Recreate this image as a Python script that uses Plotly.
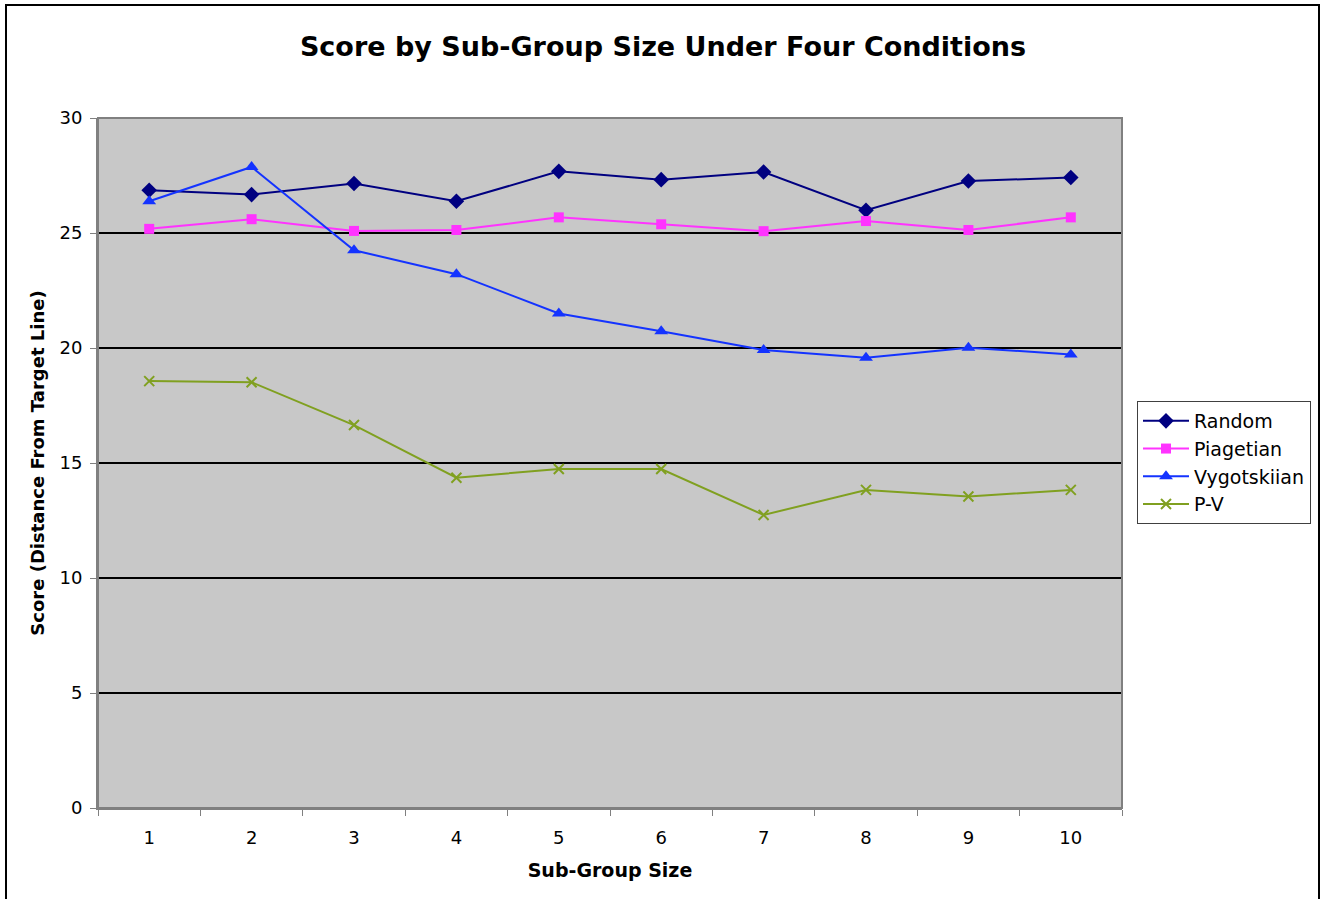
import plotly.graph_objects as go

sizes = ["1", "2", "3", "4", "5", "6", "7", "8", "9", "10"]
random_vals = [26.86, 26.67, 27.15, 26.38, 27.68, 27.32, 27.65, 25.99, 27.26, 27.41]
piagetian_vals = [25.18, 25.60, 25.09, 25.13, 25.68, 25.38, 25.08, 25.52, 25.13, 25.68]
vygotskiian_vals = [26.38, 27.87, 24.25, 23.21, 21.50, 20.73, 19.91, 19.58, 20.01, 19.72]
pv_vals = [18.56, 18.51, 16.65, 14.36, 14.74, 14.74, 12.74, 13.83, 13.54, 13.83]

y_ticks = [0, 5, 10, 15, 20, 25, 30]

FONT = "DejaVu Sans, Verdana, sans-serif"

series = [
    ("Random", random_vals, "#000080", "diamond", 12),
    ("Piagetian", piagetian_vals, "#FF33FF", "square", 10),
    ("Vygotskiian", vygotskiian_vals, "#1433FF", "triangle-up", 12),
    ("P-V", pv_vals, "#80A020", "x-thin", 10),
]

fig = go.Figure()
for name, vals, color, sym, sz in series:
    marker = dict(symbol=sym, size=sz, color=color)
    if sym == "x-thin":
        marker["line"] = dict(color=color, width=2)
    else:
        marker["line"] = dict(color=color, width=0)
    fig.add_trace(go.Scatter(
        x=sizes, y=vals, name=name, mode="lines+markers",
        line=dict(color=color, width=2), marker=marker,
    ))

W, H = 1320, 899
L, R, T, B = 98, 198, 118, 90.5
pw, ph = W - L - R, H - T - B

fig.update_layout(
    width=W, height=H,
    margin=dict(l=L, r=R, t=T, b=B, autoexpand=False),
    paper_bgcolor="white",
    plot_bgcolor="#C8C8C8",
    font=dict(family=FONT, size=18, color="black"),
    title=dict(text="<b>Score by Sub-Group Size Under Four Conditions</b>",
               x=(663 - L) / pw, xref="paper", xanchor="center",
               y=1 - 47 / H, yanchor="middle",
               font=dict(family=FONT, size=27, color="black")),
    showlegend=True,
    legend=dict(xref="container", yref="container",
                x=1137 / W, y=1 - 401 / H, xanchor="left", yanchor="top",
                bordercolor="#404040", borderwidth=1, bgcolor="white",
                font=dict(family=FONT, size=19), tracegroupgap=0,
                itemwidth=46),
    xaxis=dict(
        type="category", categoryorder="array", categoryarray=sizes,
        range=[-0.5, 9.5],
        tickson="boundaries", ticks="outside", ticklen=6, tickcolor="#808080",
        ticklabelstandoff=12,
        showgrid=False, showline=True, linecolor="#808080", linewidth=2,
        tickfont=dict(family=FONT, size=18),
        title=dict(text="<b>Sub-Group Size</b>", font=dict(family=FONT, size=19), standoff=17),
    ),
    yaxis=dict(
        range=[0, 30], tickvals=y_ticks, ticks="outside", ticklen=6, tickcolor="#808080",
        ticklabelstandoff=4,
        showgrid=True, gridcolor="black", gridwidth=1.5, zeroline=False,
        showline=True, linecolor="#808080", linewidth=2,
        tickfont=dict(family=FONT, size=18),
        title=dict(text="<b>Score (Distance From Target Line)</b>", font=dict(family=FONT, size=18), standoff=10),
    ),
    shapes=[
        dict(type="rect", xref="paper", yref="paper", x0=0, x1=1, y0=0, y1=1,
             line=dict(color="#808080", width=2), layer="above"),
        dict(type="rect", xref="paper", yref="paper",
             x0=(6 - L) / pw, x1=(1319 - L) / pw, y0=(H - B - 905) / ph, y1=(H - B - 5) / ph,
             line=dict(color="black", width=2), layer="below"),
    ],
)

fig.write_html("out.html", config={"displayModeBar": False},
               post_script="document.body.style.margin='0';document.body.style.overflow='hidden';")
